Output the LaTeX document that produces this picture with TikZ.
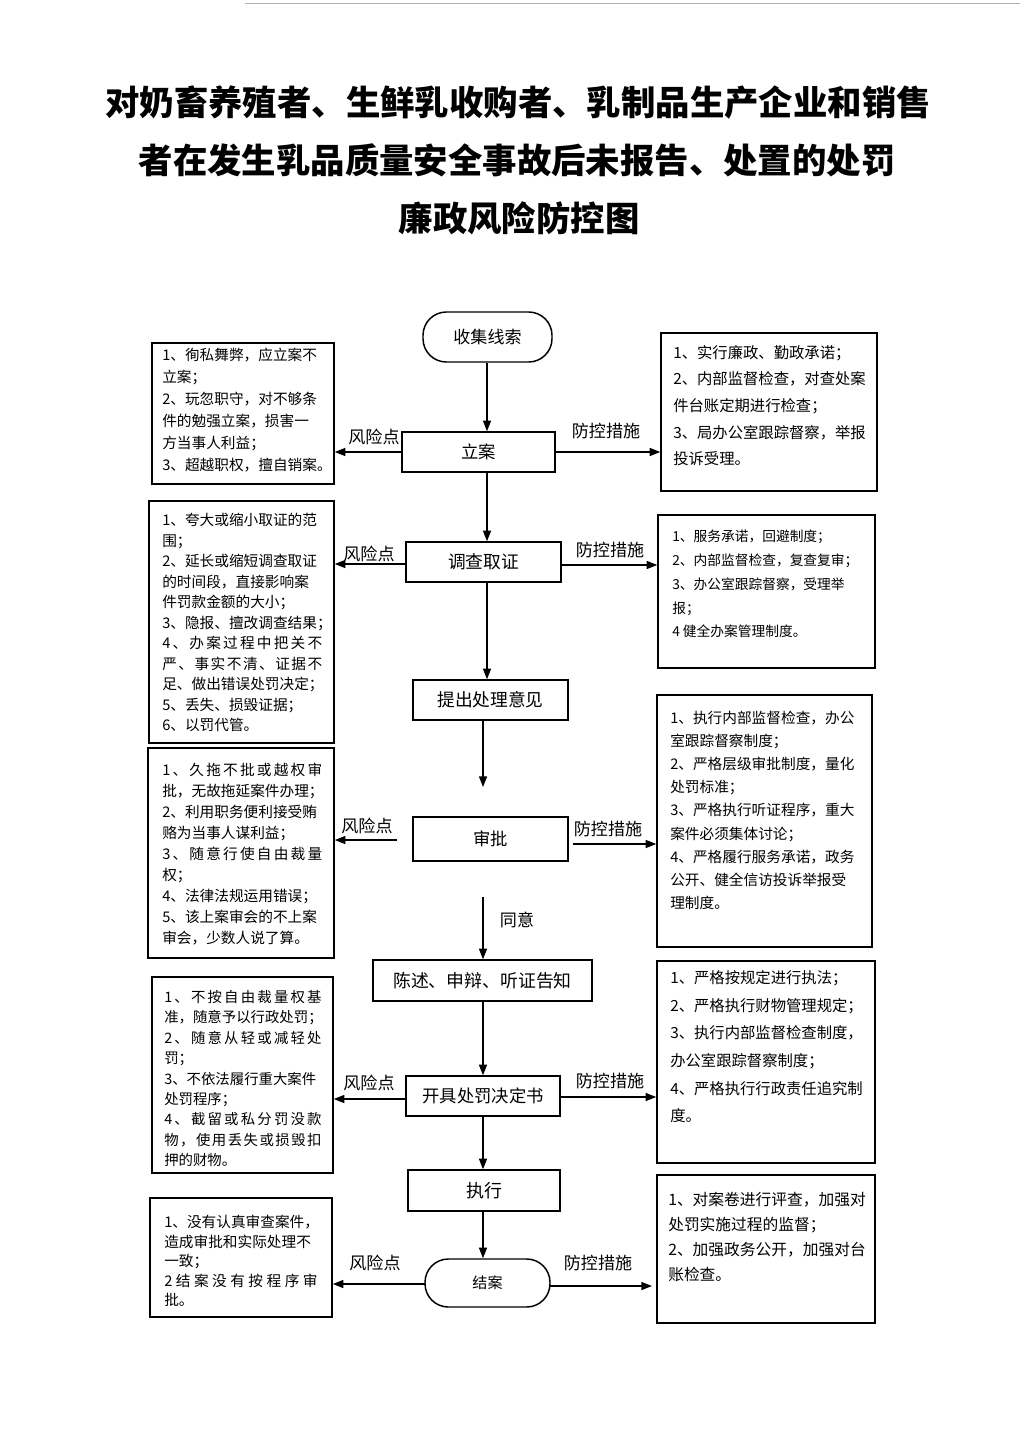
\documentclass[tikz,border=0pt]{standalone}
\usepackage{fontspec}
\newfontfamily\cjk{Noto Sans CJK SC}
\usetikzlibrary{fit,arrows.meta}
\def\sprd#1{\sprdA#1\relax}
\def\sprdA#1#2{#1\ifx\relax#2\else\hfill\expandafter\sprdA\expandafter#2\fi}
\newcommand\jline[2]{\makebox[#1][l]{\sprd{#2}}}
\begin{document}
\begin{tikzpicture}[x=0.75pt,y=-0.75pt,
  every node/.style={font=\cjk},
  sz/.style 2 args={minimum width=#1*0.75pt, minimum height=#2*0.75pt},
  flow/.style={draw, line width=1.1pt, inner sep=0pt},
  stad/.style={draw, line width=1.1pt, inner sep=0pt, rounded corners=17.5pt},
  tbox/.style={draw, line width=1.1pt, inner sep=0pt},
  arr/.style={line width=1.1pt, -{Triangle[length=8pt,width=6pt]}},
  lbl/.style={inner sep=0pt, font=\cjk\fontsize{12.8}{14}\selectfont},
  txt/.style={anchor=north west, align=left, inner sep=0pt},
  ttl/.style={inner sep=0pt, font=\cjk\bfseries\fontsize{25.8}{30}\selectfont}
]
\useasboundingbox (0,0) rectangle (1024,1448);
\fill[white] (0,0) rectangle (1024,1448);
\draw[gray!60, line width=0.6pt] (245,3) -- (1020,3);

% title
\node[ttl] (t1) at (518,103) {对奶畜养殖者、生鲜乳收购者、乳制品生产企业和销售};
\node[ttl] (t2) at (517,160) {者在发生乳品质量安全事故后未报告、处置的处罚};
\node[ttl] (t3) at (519,218) {廉政风险防控图};

% axis coordinates
\coordinate (ax1) at (487,0);
\coordinate (ax2) at (483,0);

% flow nodes
\node[stad, sz={129}{50}, font=\cjk\fontsize{12.8}{15}\selectfont] (sj) at (487.5,337) {收集线索};
\node[flow, sz={153}{40}, font=\cjk\fontsize{13}{15}\selectfont] (la) at (478.5,452) {立案};
\node[flow, sz={155}{40}, font=\cjk\fontsize{13.3}{15}\selectfont] (dc) at (483.5,562) {调查取证};
\node[flow, sz={155}{40}, font=\cjk\fontsize{13.3}{15}\selectfont] (tc) at (490.5,700) {提出处理意见};
\node[flow, sz={155}{44}, font=\cjk\fontsize{13}{15}\selectfont] (sp) at (490.5,839) {审批};
\node[flow, sz={219}{41}, font=\cjk\fontsize{13.4}{15}\selectfont] (cs) at (482.5,980.5) {陈述、申辩、听证告知};
\node[flow, sz={154}{40}, font=\cjk\fontsize{13}{15}\selectfont] (kj) at (483,1096) {开具处罚决定书};
\node[flow, sz={152}{41}, font=\cjk\fontsize{13.5}{15}\selectfont] (zx) at (484,1190.5) {执行};
\node[stad, sz={125}{48}, font=\cjk\fontsize{11.3}{13}\selectfont] (ja) at (487.5,1283) {结案};

% left risk boxes
\node[tbox, fit={(152,343)(334,484)}] (L1) {};
\node[txt, font=\cjk\fontsize{11}{16.4}\selectfont] (L1t) at (162,348) {1、徇私舞弊，应立案不\\立案；\\2、玩忽职守，对不够条\\件的勉强立案，损害一\\方当事人利益；\\3、超越职权，擅自销案。};

\node[tbox, fit={(149,501)(334,743)}] (L2) {};
\node[txt, font=\cjk\fontsize{11}{15.4}\selectfont] (L2t) at (162,513) {1、夸大或缩小取证的范\\围；\\2、延长或缩短调查取证\\的时间段，直接影响案\\件罚款金额的大小；\\3、隐报、擅改调查结果；\\\jline{120pt}{4、办案过程中把关不}\\\jline{120pt}{严、事实不清、证据不}\\足、做出错误处罚决定；\\5、丢失、损毁证据；\\6、以罚代管。};

\node[tbox, fit={(148,748)(334,958)}] (L3) {};
\node[txt, font=\cjk\fontsize{11}{15.75}\selectfont] (L3t) at (162,763) {\jline{120pt}{1、久拖不批或越权审}\\批，无故拖延案件办理；\\2、利用职务便利接受贿\\赂为当事人谋利益；\\\jline{120pt}{3、随意行使自由裁量}\\权；\\4、法律法规运用错误；\\5、该上案审会的不上案\\审会，少数人说了算。};

\node[tbox, fit={(152,977)(333,1173)}] (L4) {};
\node[txt, font=\cjk\fontsize{10.8}{15.3}\selectfont] (L4t) at (164,990) {\jline{118pt}{1、不按自由裁量权基}\\准，随意予以行政处罚；\\\jline{118pt}{2、随意从轻或减轻处}\\罚；\\3、不依法履行重大案件\\处罚程序；\\\jline{118pt}{4、截留或私分罚没款}\\\jline{118pt}{物，使用丢失或损毁扣}\\押的财物。};

\node[tbox, fit={(150,1198)(332,1317)}] (L5) {};
\node[txt, font=\cjk\fontsize{11}{14.6}\selectfont] (L5t) at (164,1215) {1、没有认真审查案件，\\造成审批和实际处理不\\一致；\\\jline{115pt}{2结案没有按程序审}\\批。};

% right control boxes
\node[tbox, fit={(661,333)(877,491)}] (R1) {};
\node[txt, font=\cjk\fontsize{11.5}{20}\selectfont] (R1t) at (673,345) {1、实行廉政、勤政承诺；\\2、内部监督检查，对查处案\\件台账定期进行检查；\\3、局办公室跟踪督察，举报\\投诉受理。};

\node[tbox, fit={(658,515)(875,668)}] (R2) {};
\node[txt, font=\cjk\fontsize{10.3}{17.8}\selectfont] (R2t) at (672,530) {1、服务承诺，回避制度；\\2、内部监督检查，复查复审；\\3、办公室跟踪督察，受理举\\报；\\4 健全办案管理制度。};

\node[tbox, fit={(657,695)(872,947)}] (R3) {};
\node[txt, font=\cjk\fontsize{11}{17.3}\selectfont] (R3t) at (670,711) {1、执行内部监督检查，办公\\室跟踪督察制度；\\2、严格层级审批制度，量化\\处罚标准；\\3、严格执行听证程序，重大\\案件必须集体讨论；\\4、严格履行服务承诺，政务\\公开、健全信访投诉举报受\\理制度。};

\node[tbox, fit={(657,961)(875,1163)}] (R4) {};
\node[txt, font=\cjk\fontsize{11.5}{20.8}\selectfont] (R4t) at (670,970) {1、严格按规定进行执法；\\2、严格执行财物管理规定；\\3、执行内部监督检查制度，\\办公室跟踪督察制度；\\4、严格执行行政责任追究制\\度。};

\node[tbox, fit={(657,1175)(875,1323)}] (R5) {};
\node[txt, font=\cjk\fontsize{11.8}{18.75}\selectfont] (R5t) at (668,1192) {1、对案卷进行评查，加强对\\处罚实施过程的监督；\\2、加强政务公开，加强对台\\账检查。};

% vertical flow arrows
\draw[arr] (sj.south -| ax1) -- (la.north -| ax1);
\draw[arr] (la.south -| ax1) -- (dc.north -| ax1);
\draw[arr] (dc.south -| ax1) -- (tc.north -| ax1);
\coordinate (tcend) at (483,787);
\draw[arr] (tc.south -| ax2) -- (tcend);
\coordinate (tyst) at (483,897);
\draw[arr] (tyst) -- (cs.north -| ax2);
\node[lbl] (ty) at (517,920) {同意};
\draw[arr] (cs.south -| ax2) -- (kj.north -| ax2);
\draw[arr] (kj.south -| ax2) -- (zx.north -| ax2);
\draw[arr] (zx.south -| ax2) -- (ja.north -| ax2);

% row 1
\draw[arr] (la.west) -- (L1.east |- la.west);
\node[lbl] (f1) at (374,437) {风险点};
\draw[arr] (la.east) -- (R1.west |- la.east);
\node[lbl] (p1) at (606,431) {防控措施};

% row 2
\coordinate (r2l) at (406,564);
\draw[arr] (r2l) -- (L2.east |- r2l);
\node[lbl] (f2) at (369,554) {风险点};
\coordinate (r2r) at (561,565);
\draw[arr] (r2r) -- (R2.west |- r2r);
\node[lbl] (p2) at (610,550) {防控措施};

% row 3
\coordinate (r3l) at (397,840);
\draw[arr] (r3l) -- (L3.east |- r3l);
\node[lbl] (f3) at (367,826) {风险点};
\coordinate (r3r) at (573,844);
\draw[arr] (r3r) -- (R3.west |- r3r);
\node[lbl] (p3) at (608,829) {防控措施};

% row 4
\coordinate (r4l) at (406,1099);
\draw[arr] (r4l) -- (L4.east |- r4l);
\node[lbl] (f4) at (369,1083) {风险点};
\coordinate (r4r) at (560,1097);
\draw[arr] (r4r) -- (R4.west |- r4r);
\node[lbl] (p4) at (610,1081) {防控措施};

% row 5
\coordinate (r5l) at (425,1284);
\draw[arr] (r5l) -- (L5.east |- r5l);
\node[lbl] (f5) at (375,1263) {风险点};
\coordinate (r5r) at (550,1286);
\coordinate (r5e) at (652,1286);
\draw[arr] (r5r) -- (r5e);
\node[lbl] (p5) at (598,1263) {防控措施};
\end{tikzpicture}
\end{document}
